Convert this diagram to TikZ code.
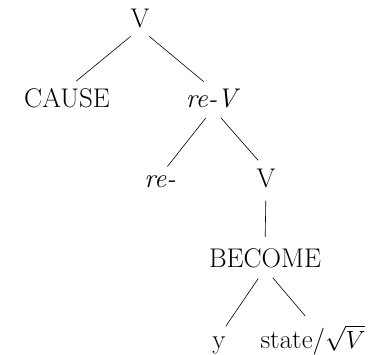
\documentclass[tikz,border=0pt]{standalone}
\begin{document}
\begin{tikzpicture}[x=1pt,y=-1pt,
  lab/.style={inner sep=0pt, anchor=base, font=\fontsize{27}{32}\selectfont},
  edge/.style={line width=0.6pt, shorten <=12pt, shorten >=12pt}]
\useasboundingbox (0,0) rectangle (372,355);
\node[lab] (v1) at (140,28) {V};
\node[lab] (cause) at (67,108) {CAUSE};
\node[lab] (rev) at (213,108) {\textit{re-V}};
\node[lab] (re) at (160,188) {\textit{re-}};
\node[lab] (v2) at (266,188) {V};
\node[lab] (become) at (265,268) {BECOME};
\node[lab] (y) at (219,348) {y};
\node[lab] (state) at (313,348) {state/$\sqrt{V}$};
\draw[edge] (v1.south) -- (cause.north);
\draw[edge] (v1.south) -- (rev.north);
\draw[edge] (rev.south) -- (re.north);
\draw[edge] (rev.south) -- (v2.north);
\draw[edge] (v2.south) -- (become.north);
\draw[edge] (become.south) -- (y.north);
\draw[edge] (become.south) -- (state.north);
\end{tikzpicture}
\end{document}
